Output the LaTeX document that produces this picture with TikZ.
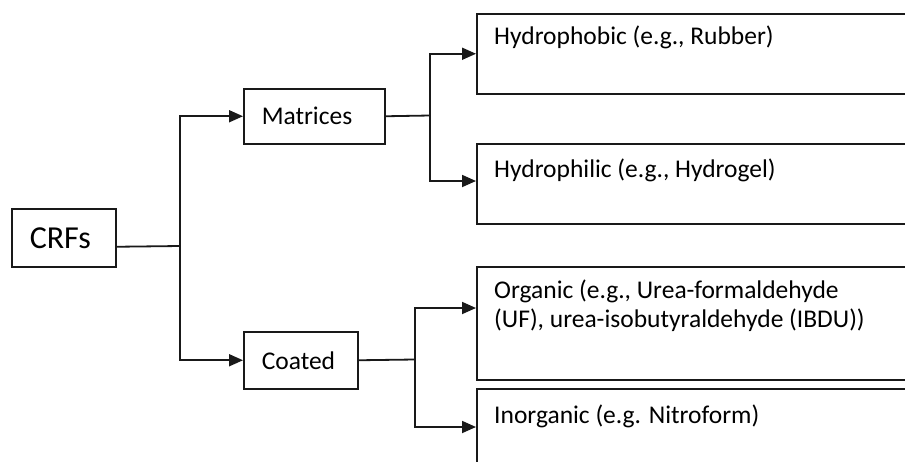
\documentclass[tikz,border=0pt]{standalone}
\usepackage{fontspec}
\setmainfont{Carlito}
\usetikzlibrary{arrows.meta,calc}
\begin{document}
\begin{tikzpicture}[x=1pt,y=1pt,
  box/.style={draw=black!90, line width=1.5pt, rectangle, inner sep=0pt, anchor=north west},
  lbox/.style={box, inner xsep=18pt, align=left, text=black, text width=#1-36pt, minimum width=#1},
  txt/.style={inner sep=0pt, anchor=base west, text=black, font=\fontsize{25.5pt}{30pt}\selectfont},
  ln/.style={draw=black!90, line width=1.8pt},
  arr/.style={ln, -{Triangle[length=14pt,width=12pt]}}
]
\useasboundingbox (0,0) rectangle (905,-461);
\clip (0,0) rectangle (905,-461);
\fill[white] (0,0) rectangle (905,-461);

% left boxes
\node[lbox=104pt, minimum height=58pt, font=\fontsize{32pt}{38pt}\selectfont] (crf) at (11,-208) {CRFs};
\node[lbox=141pt, minimum height=55pt, font=\fontsize{25.5pt}{30pt}\selectfont] (mat) at (243,-88) {Matrices};
\node[lbox=114pt, minimum height=57pt, font=\fontsize{25.5pt}{30pt}\selectfont] (coa) at (243,-331) {Coated};

% right boxes (run past the right edge)
\node[box, minimum width=460pt, minimum height=80pt] (hpb) at (476,-13) {};
\node[box, minimum width=460pt, minimum height=80pt] (hpl) at (476,-143) {};
\node[box, minimum width=460pt, minimum height=113pt] (org) at (476,-266) {};
\node[box, minimum width=460pt, minimum height=100pt] (ino) at (476,-388) {};

\node[txt] (thpb) at ($(hpb.north west)+(18,-31)$) {Hydrophobic (e.g., Rubber)};
\node[txt] (thpl) at ($(hpl.north west)+(18,-34)$) {Hydrophilic (e.g., Hydrogel)};
\node[txt] (torg1) at ($(org.north west)+(18,-32)$) {Organic (e.g., Urea-formaldehyde};
\node[txt] (torg2) at ($(org.north west)+(18,-61)$) {(UF), urea-isobutyraldehyde (IBDU))};
\node[txt] (tino) at ($(ino.north west)+(18,-35)$) {Inorganic (e.g. Nitroform)};

% junctions
\coordinate (j1) at (180,-246);
\coordinate (j2) at (430,-115.5);
\coordinate (j3) at (415,-359.5);

% connectors
\draw[ln] ($(crf.east)+(0,-9)$) -- (j1);
\draw[arr] (j1) |- (mat.west);
\draw[arr] (j1) |- (coa.west);
\draw[ln] (mat.east) -- (j2);
\draw[arr] (j2) |- (hpb.west);
\draw[arr] (j2) |- ($(hpl.north west)+(0,-38)$);
\draw[ln] (coa.east) -- (j3);
\draw[arr] (j3) |- ($(org.north west)+(0,-42)$);
\draw[arr] (j3) |- ($(ino.north west)+(0,-39)$);
\end{tikzpicture}
\end{document}
